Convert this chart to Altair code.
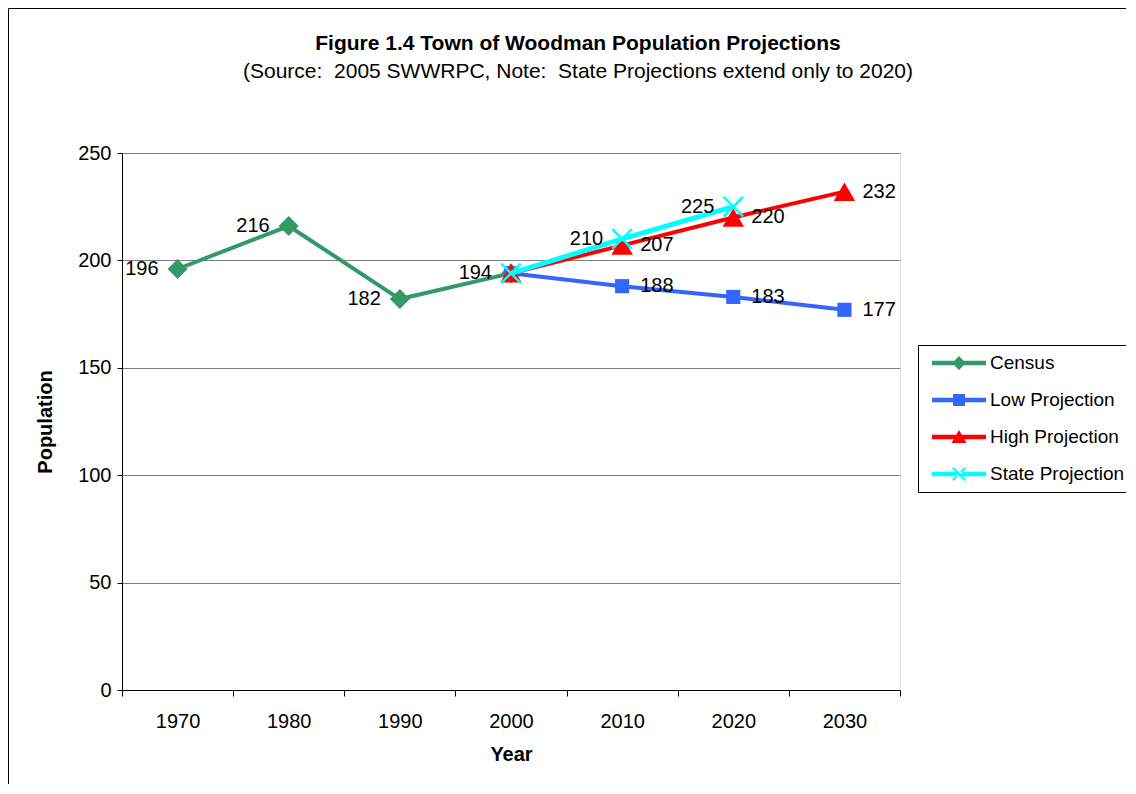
import altair as alt
import pandas as pd

# ---- data ----
years = ["1970", "1980", "1990", "2000", "2010", "2020", "2030"]
series_names = ["Census", "Low Projection", "High Projection", "State Projection"]
census_years = ["1970", "1980", "1990", "2000"]
census_vals = [196, 216, 182, 194]
proj_years = ["2000", "2010", "2020", "2030"]
low_vals = [194, 188, 183, 177]
high_vals = [194, 207, 220, 232]
state_years = ["2000", "2010", "2020"]
state_vals = [194, 210, 225]
colors = ["#339966", "#3366FF", "#FF0000", "#00FFFF"]
title_text = "Figure 1.4 Town of Woodman Population Projections"
subtitle_text = "(Source:\u00a0 2005 SWWRPC, Note:\u00a0 State Projections extend only to 2020)"

series_data = {
    "Census": (census_years, census_vals),
    "Low Projection": (proj_years, low_vals),
    "High Projection": (proj_years, high_vals),
    "State Projection": (state_years, state_vals),
}

rows = []
for name, (ys, vs) in series_data.items():
    for y, v in zip(ys, vs):
        rows.append({"Year": y, "Population": v, "Series": name,
                     "Show": (name == "Census") or (y != "2000")})
df = pd.DataFrame(rows)

FONT = "Liberation Sans"
W, H = 778, 537

X = alt.X("Year:O", scale=alt.Scale(type="band", domain=years, paddingInner=0, paddingOuter=0),
          axis=alt.Axis(title="Year", tickBand="extent", tickSize=6, tickColor="black",
                        domainColor="black", labelAngle=0, labelFontSize=20, labelPadding=15,
                        titleFontSize=20, titleFontWeight="bold", titlePadding=13, grid=False))
Y = alt.Y("Population:Q", scale=alt.Scale(domain=[0, 250], nice=False),
          axis=alt.Axis(title="Population", values=[0, 50, 100, 150, 200, 250], tickSize=5,
                        tickColor="black", domainColor="black", labelFontSize=20, labelPadding=6,
                        titleFontSize=20, titleFontWeight="bold", titlePadding=22,
                        grid=True, gridColor="#808080", gridWidth=1))

one = pd.DataFrame({"k": [0]})

# outer chart border (decoration)
border = alt.Chart(one).mark_rect(
    fillOpacity=0, stroke="black", strokeWidth=1).encode(
    x=alt.value(-113.5), x2=alt.value(1300), y=alt.value(-144.5), y2=alt.value(900))

# titles as text marks
title = alt.Chart(one).mark_text(
    text=title_text, font=FONT, fontSize=21, fontWeight="bold", color="black",
    align="center", baseline="alphabetic").encode(x=alt.value(456), y=alt.value(-103))
subtitle = alt.Chart(one).mark_text(
    text=subtitle_text, font=FONT, fontSize=21, color="black",
    align="center", baseline="alphabetic").encode(x=alt.value(456), y=alt.value(-75))

markers = {
    "Census": dict(shape="diamond", size=400, filled=True, sw=0),
    "Low Projection": dict(shape="square", size=200, filled=True, sw=0),
    "High Projection": dict(shape="triangle-up", size=460, filled=True, sw=0),
    "State Projection": dict(shape="M-1,-1L1,1M-1,1L1,-1", size=380, filled=False, sw=2.5),
}
line_widths = {"Census": 4, "Low Projection": 4, "High Projection": 4, "State Projection": 5}

layers = [border, title, subtitle]
for name, col in zip(series_names, colors):
    base = alt.Chart(df).transform_filter(alt.datum.Series == name)
    ln = base.mark_line(color=col, strokeWidth=line_widths[name]).encode(x=X, y=Y)
    m = markers[name]
    pt = base.mark_point(shape=m["shape"], size=m["size"], filled=m["filled"], color=col,
                         opacity=1, strokeWidth=m["sw"]).encode(x=X, y=Y)
    layers += [ln, pt]

lab = alt.Chart(df).transform_filter(alt.datum.Show)
lab_left = lab.transform_filter(
    (alt.datum.Series == "Census") | (alt.datum.Series == "State Projection")
).mark_text(align="right", baseline="middle", dx=-19, fontSize=20, font=FONT, color="black").encode(
    x=X, y=Y, text="Population:Q")
lab_right = lab.transform_filter(
    (alt.datum.Series == "Low Projection") | (alt.datum.Series == "High Projection")
).mark_text(align="left", baseline="middle", dx=18, fontSize=20, font=FONT, color="black").encode(
    x=X, y=Y, text="Population:Q")
layers += [lab_left, lab_right]


# legend symbols: line + marker as filled custom paths (units of 10px)
def rect(x0, x1, y0, y1):
    return f"M{x0},{y0}L{x1},{y0}L{x1},{y1}L{x0},{y1}Z"


lx0, lx1, lt = -0.4, 5.0, 0.22
cx = (lx0 + lx1) / 2
line_path = rect(lx0, lx1, -lt, lt)
d = 0.7
diamond = f"M{cx - d},0L{cx},{-d}L{cx + d},0L{cx},{d}Z"
s = 0.6
square = rect(cx - s, cx + s, -s, s)
tri = f"M{cx},-0.7L{cx + 0.75},0.6L{cx - 0.75},0.6Z"
a, t = 0.7, 0.16
xmark = (f"M{cx - a},{-a + t}L{cx - a + t},{-a}L{cx + a},{a - t}L{cx + a - t},{a}Z"
         f"M{cx - a},{a - t}L{cx - a + t},{a}L{cx + a},{-a + t}L{cx + a - t},{-a}Z")
paths = [line_path + diamond, line_path + square, line_path + tri, line_path + xmark]

leg = alt.Legend(title=None, orient="none", legendX=796, legendY=192, padding=8,
                 strokeColor="black", fillColor="white", symbolSize=400, symbolStrokeWidth=0,
                 symbolOpacity=1, labelOffset=44, labelFontSize=19, labelFont=FONT,
                 labelColor="black", rowPadding=17, labelLimit=300)
legend_layer = alt.Chart(df).transform_filter("false").mark_point(filled=True, opacity=1).encode(
    x=X, y=Y,
    color=alt.Color("Series:N", scale=alt.Scale(domain=series_names, range=colors), legend=leg),
    shape=alt.Shape("Series:N", scale=alt.Scale(domain=series_names, range=paths), legend=leg),
)
layers.append(legend_layer)

chart = alt.layer(*layers).properties(
    width=W, height=H,
    autosize=alt.AutoSizeParams(type="none"),
    padding={"left": 114, "top": 145, "right": 226, "bottom": 94},
).configure_view(stroke="#808080", strokeWidth=1).configure_axis(
    labelFont=FONT, titleFont=FONT, labelColor="black", titleColor="black"
).configure(background="white")

chart.save("out.html", embed_options={"renderer": "svg", "actions": False})
